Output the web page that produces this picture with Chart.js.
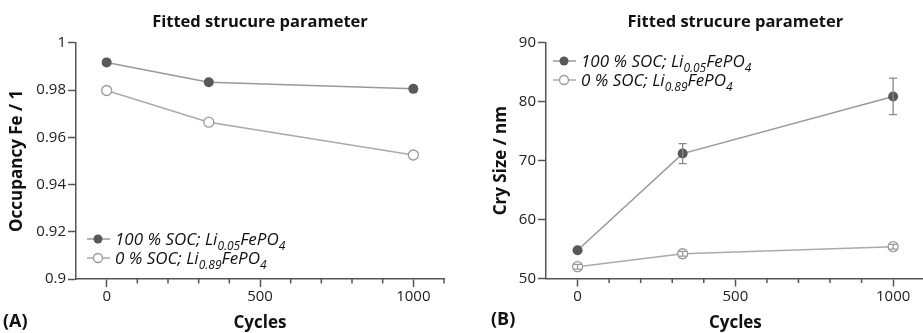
<!DOCTYPE html>
<html>
<head>
<meta charset="utf-8">
<script src="https://cdn.jsdelivr.net/npm/chart.js@4.4.1/dist/chart.umd.min.js"></script>
<style>
  html, body { margin: 0; padding: 0; background: #fff; }
  body { width: 923px; height: 333px; overflow: hidden; position: relative; font-family: "Open Sans", sans-serif; color: #111; }
  canvas { position: absolute; top: 0; }
  #chartA { left: 0; }
  #chartB { left: 461px; }
  .tag { position: absolute; font-weight: bold; font-size: 18px; line-height: 20px; }
  .legend { position: absolute; font-style: italic; font-size: 17px; }
  .legend .row { height: 19px; line-height: 19px; white-space: nowrap; display: flex; align-items: center; }
  .legend svg { flex: none; margin-right: 5px; }
  .legend sub { font-size: 12px; vertical-align: -5px; line-height: 0; }
</style>
</head>
<body>
<canvas id="chartA" width="461" height="333"></canvas>
<canvas id="chartB" width="470" height="333"></canvas>

<div class="tag" style="left:3px;top:310px;">(A)</div>
<div class="tag" style="left:491px;top:308px;">(B)</div>

<div class="legend" style="left:87px;top:229px;">
  <div class="row">
    <svg width="23" height="12"><line x1="0" y1="6" x2="23" y2="6" stroke="#999" stroke-width="1.5"/><circle cx="11" cy="6" r="4.5" fill="#585858"/></svg>
    <span>100 % SOC; Li<sub>0.05</sub>FePO<sub>4</sub></span>
  </div>
  <div class="row">
    <svg width="23" height="12"><line x1="0" y1="6" x2="23" y2="6" stroke="#aaa" stroke-width="1.5"/><circle cx="11" cy="6" r="4.5" fill="#fff" stroke="#999" stroke-width="1.3"/></svg>
    <span>0 % SOC; Li<sub>0.89</sub>FePO<sub>4</sub></span>
  </div>
</div>

<div class="legend" style="left:553px;top:51px;">
  <div class="row">
    <svg width="23" height="12"><line x1="0" y1="6" x2="23" y2="6" stroke="#999" stroke-width="1.5"/><circle cx="11" cy="6" r="4.5" fill="#585858"/></svg>
    <span>100 % SOC; Li<sub>0.05</sub>FePO<sub>4</sub></span>
  </div>
  <div class="row">
    <svg width="23" height="12"><line x1="0" y1="6" x2="23" y2="6" stroke="#aaa" stroke-width="1.5"/><circle cx="11" cy="6" r="4.5" fill="#fff" stroke="#999" stroke-width="1.3"/></svg>
    <span>0 % SOC; Li<sub>0.89</sub>FePO<sub>4</sub></span>
  </div>
</div>

<script>
// data
const cycles = [0, 333, 1000];
const cycleTicks = [0, 500, 1000];

const occFull = [0.9917, 0.9833, 0.9805];
const occEmpty = [0.9798, 0.9664, 0.9525];
const occTicks = [0.9, 0.92, 0.94, 0.96, 0.98, 1];

const sizeFull = [54.8, 71.2, 80.9];
const sizeFullErr = [0, 1.7, 3.1];
const sizeEmpty = [52.0, 54.2, 55.4];
const sizeEmptyErr = [0.4, 0.4, 0.4];
const sizeTicks = [50, 60, 70, 80, 90];

const AXIS = '#555';
Chart.defaults.font.family = '"Open Sans"';
Chart.defaults.color = '#222';

// small ticks every 100 cycles between the labelled ones
const minorTicks = {
  id: 'minorTicks',
  afterDraw(chart) {
    const x = chart.scales.x;
    const ctx = chart.ctx;
    ctx.save();
    ctx.strokeStyle = AXIS;
    ctx.lineWidth = 1.5;
    for (let v = 100; v <= 1100; v += 100) {
      if (cycleTicks.includes(v)) continue;
      const px = x.getPixelForValue(v);
      if (px > x.right + 1) continue;
      ctx.beginPath();
      ctx.moveTo(px, x.top);
      ctx.lineTo(px, x.top + 4.5);
      ctx.stroke();
    }
    ctx.restore();
  }
};

const errorBars = {
  id: 'errorBars',
  afterDatasetsDraw(chart) {
    const ctx = chart.ctx;
    const y = chart.scales.y;
    chart.data.datasets.forEach((ds, i) => {
      if (!ds.errors) return;
      const meta = chart.getDatasetMeta(i);
      ctx.save();
      ctx.strokeStyle = ds.errorColor;
      ctx.lineWidth = 1.3;
      meta.data.forEach((pt, j) => {
        const e = ds.errors[j];
        if (!e) return;
        const top = y.getPixelForValue(ds.data[j].y + e);
        const bot = y.getPixelForValue(ds.data[j].y - e);
        ctx.beginPath();
        ctx.moveTo(pt.x, top); ctx.lineTo(pt.x, bot);
        ctx.moveTo(pt.x - 4, top); ctx.lineTo(pt.x + 4, top);
        ctx.moveTo(pt.x - 4, bot); ctx.lineTo(pt.x + 4, bot);
        ctx.stroke();
      });
      ctx.restore();
    });
  }
};

function series(values, filled, errors) {
  return {
    data: cycles.map((c, i) => ({ x: c, y: values[i] })),
    borderColor: filled ? '#999' : '#aaa',
    borderWidth: 1.5,
    pointRadius: 5,
    pointBorderWidth: filled ? 0 : 1.3,
    pointBackgroundColor: filled ? '#585858' : '#fff',
    pointBorderColor: filled ? '#585858' : '#999',
    errors: errors,
    errorColor: filled ? '#888' : '#999',
    clip: false
  };
}

function makeChart(id, o) {
  return new Chart(document.getElementById(id), {
    type: 'line',
    data: { datasets: o.datasets },
    plugins: [minorTicks, errorBars],
    options: {
      responsive: false,
      animation: false,
      layout: { padding: { left: 0, right: o.padRight, top: 0, bottom: 0 } },
      plugins: {
        legend: { display: false },
        tooltip: { enabled: false },
        title: {
          display: true,
          text: 'Fitted strucure parameter',
          fullSize: false,
          color: '#111',
          font: { size: 16.5, weight: 'bold', lineHeight: 1.2 },
          padding: { top: 12, bottom: 11 }
        }
      },
      scales: {
        x: {
          type: 'linear',
          min: -100,
          max: 1100,
          afterBuildTicks: s => { s.ticks = cycleTicks.map(v => ({ value: v })); },
          afterFit: s => { s.height = 333 - o.bottom; },
          border: { color: AXIS, width: 1.5 },
          grid: { drawOnChartArea: false, tickLength: 8, tickColor: AXIS, tickWidth: 1.5 },
          ticks: { font: { size: 15 }, padding: 1, maxRotation: 0, callback: v => String(v) },
          title: { display: true, text: 'Cycles', color: '#111', font: { size: 17, weight: 'bold', lineHeight: 1.2 }, padding: { top: 0, bottom: 0 } }
        },
        y: {
          min: o.yTicks[0],
          max: o.yTicks[o.yTicks.length - 1],
          afterBuildTicks: s => { s.ticks = o.yTicks.map(v => ({ value: v })); },
          afterFit: s => { s.width = o.left; },
          border: { color: AXIS, width: 1.5 },
          grid: { drawOnChartArea: false, tickLength: 8, tickColor: AXIS, tickWidth: 1.5 },
          ticks: { font: { size: 15 }, padding: 2, callback: v => String(+v.toFixed(2)) },
          title: { display: true, text: o.yTitle, color: '#111', font: { size: 17, weight: 'bold', lineHeight: 1.2 }, padding: { top: o.yTitlePad, bottom: 0 } }
        }
      }
    }
  });
}

makeChart('chartA', {
  datasets: [series(occFull, true), series(occEmpty, false)],
  yTicks: occTicks,
  yTitle: 'Occupancy Fe / 1',
  yTitlePad: 7,
  left: 76,
  padRight: 17,
  bottom: 279
});

makeChart('chartB', {
  datasets: [series(sizeFull, true, sizeFullErr), series(sizeEmpty, false, sizeEmptyErr)],
  yTicks: sizeTicks,
  yTitle: 'Cry Size / nm',
  yTitlePad: 30,
  left: 85,
  padRight: 5,
  bottom: 278.5
});
</script>
</body>
</html>
